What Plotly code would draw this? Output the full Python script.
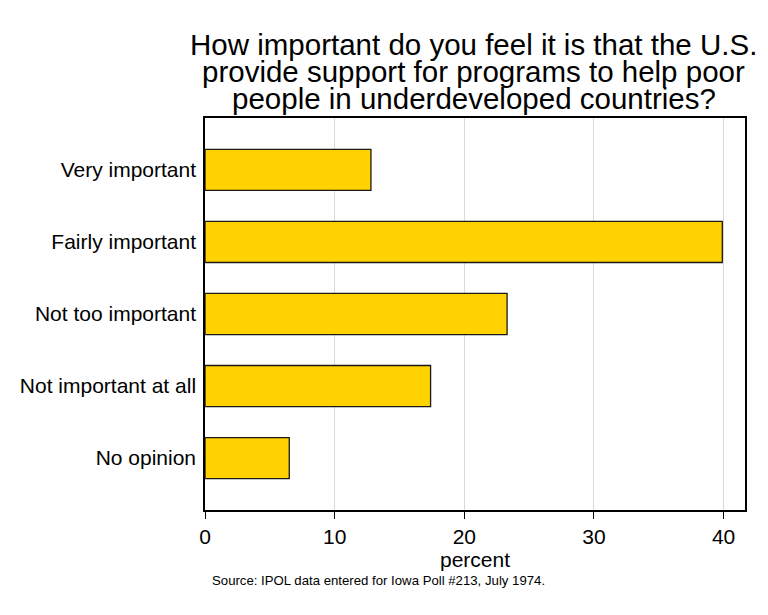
import plotly.graph_objects as go

categories = ["Very important", "Fairly important", "Not too important",
              "Not important at all", "No opinion"]
percent = [12.8, 39.9, 23.3, 17.4, 6.5]

title_lines = ["How important do you feel it is that the U.S.",
               "provide support for programs to help poor",
               "people in underdeveloped countries?"]
source_text = "Source: IPOL data entered for Iowa Poll #213, July 1974."

fig = go.Figure()
fig.add_trace(go.Bar(
    x=percent,
    y=categories,
    orientation="h",
    width=0.57,
    marker=dict(color="#FFD200", line=dict(color="#1a1a1a", width=1.3)),
    hovertemplate="%{y}: %{x}%<extra></extra>",
))

# page body has an 8px margin, so the figure is a bit smaller than the window
fig.update_layout(
    width=760,
    height=607,
    paper_bgcolor="white",
    plot_bgcolor="white",
    font=dict(family="Liberation Sans, Arial, sans-serif", color="black", size=21),
    margin=dict(l=197, r=23, t=110, b=105),
    showlegend=False,
)

fig.update_xaxes(
    range=[0, 41.65],
    tickvals=[0, 10, 20, 30, 40],
    showgrid=True,
    gridcolor="#d9d9d9",
    gridwidth=1.3,
    zeroline=False,
    showline=True,
    linecolor="black",
    linewidth=1.5,
    mirror=True,
    ticks="outside",
    ticklen=7,
    tickcolor="black",
    title=dict(text="percent", standoff=0, font=dict(size=21)),
)
fig.update_yaxes(
    categoryorder="array",
    categoryarray=categories[::-1],
    range=[-0.72, 4.72],
    showgrid=False,
    zeroline=False,
    showline=True,
    linecolor="black",
    linewidth=1.5,
    mirror=True,
    ticks="",
    ticklabelstandoff=3,
)

# title as separate lines to get the tight line spacing
for line, ypos in zip(title_lines, [1.188, 1.118, 1.050]):
    fig.add_annotation(
        text=line, xref="paper", yref="paper", x=0.498, y=ypos,
        xanchor="center", yanchor="middle", showarrow=False,
        font=dict(size=29.5),
    )

fig.add_annotation(
    text=source_text,
    xref="paper", yref="paper",
    x=0.009, y=-0.179,
    xanchor="left", yanchor="middle",
    showarrow=False,
    font=dict(size=13.2),
)

fig.write_html("out.html")
